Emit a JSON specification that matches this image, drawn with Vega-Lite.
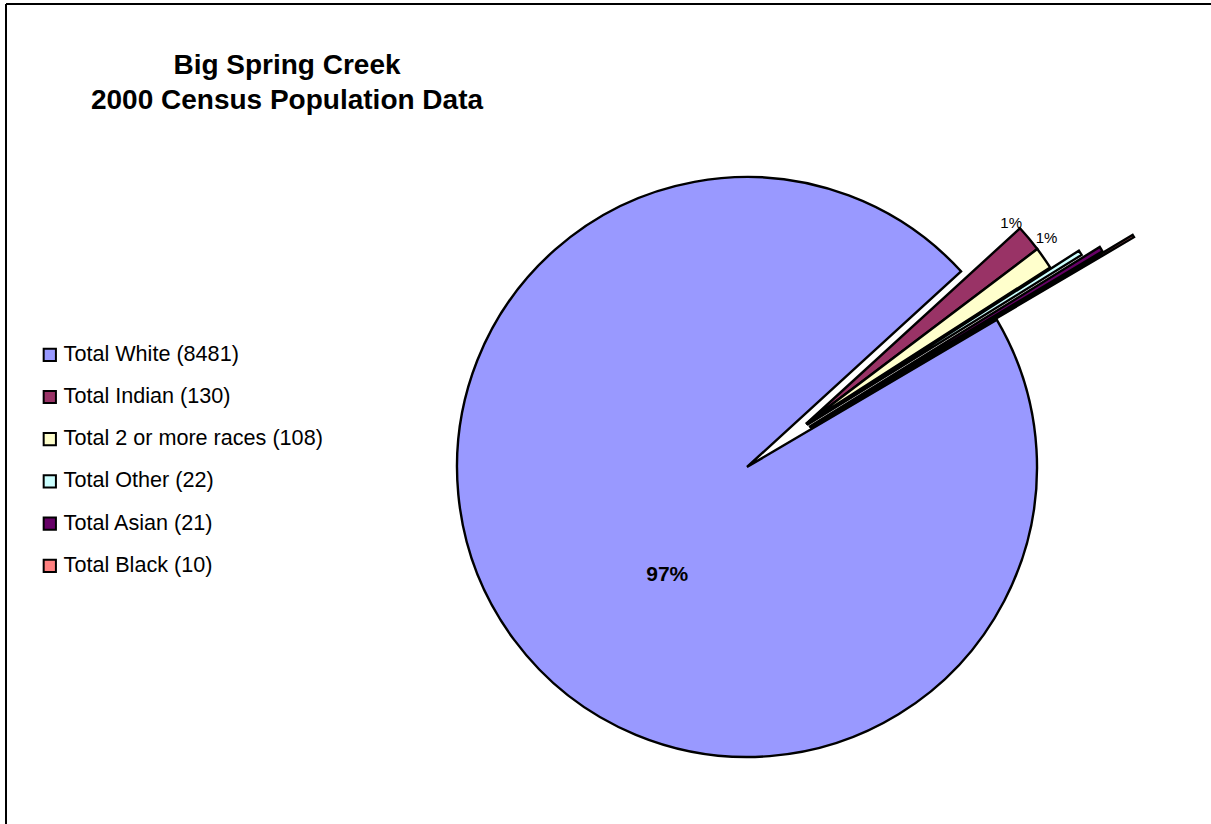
{
  "$schema": "https://vega.github.io/schema/vega-lite/v6.json",
  "width": 1205,
  "height": 820,
  "autosize": {"type": "none"},
  "padding": {"left": 6, "top": 4, "right": 0, "bottom": 0},
  "background": "white",
  "config": {
    "view": {"stroke": null},
    "font": "Liberation Sans"
  },
  "title": {
    "text": ["Big Spring Creek", "2000 Census Population Data"],
    "anchor": "start",
    "frame": "group",
    "align": "center",
    "orient": "top",
    "baseline": "top",
    "offset": 0,
    "dx": 281,
    "dy": 112,
    "fontSize": 28,
    "lineHeight": 35,
    "fontWeight": "bold",
    "font": "Liberation Sans",
    "color": "black"
  },
  "data": {
    "values": [
      {"label": "Total White (8481)", "count": 8481},
      {"label": "Total Indian (130)", "count": 130},
      {"label": "Total 2 or more races (108)", "count": 108},
      {"label": "Total Other (22)", "count": 22},
      {"label": "Total Asian (21)", "count": 21},
      {"label": "Total Black (10)", "count": 10}
    ]
  },
  "transform": [
    {"joinaggregate": [{"op": "sum", "field": "count", "as": "total"}]},
    {"calculate": "format(datum.count / datum.total, '.0%')", "as": "pctText"}
  ],
  "encoding": {
    "x": {"datum": 0.614938, "type": "quantitative", "scale": {"domain": [0, 1], "nice": false, "zero": false}, "axis": null},
    "y": {"datum": 0.564634, "type": "quantitative", "scale": {"domain": [0, 1], "nice": false, "zero": false, "reverse": true}, "axis": null}
  },
  "layer": [
    {
      "data": {"values": [{"frame": 1}]},
      "mark": {"type": "rule", "stroke": "black", "strokeWidth": 2},
      "encoding": {
        "x": {"datum": 0, "type": "quantitative"},
        "x2": {"datum": 1.5},
        "y": {"datum": 0, "type": "quantitative"}
      }
    },
    {
      "data": {"values": [{"frame": 1}]},
      "mark": {"type": "rule", "stroke": "black", "strokeWidth": 2},
      "encoding": {
        "x": {"datum": 0, "type": "quantitative"},
        "y": {"datum": 0, "type": "quantitative"},
        "y2": {"datum": 1.5}
      }
    },
    {
      "mark": {"type": "arc", "radius": 290, "stroke": "black", "strokeWidth": 2.4},
      "encoding": {
        "theta": {"field": "count", "type": "quantitative", "stack": true, "scale": {"range": [1.0385, 7.3217]}},
        "order": {"field": "count", "type": "quantitative", "sort": "descending"},
        "color": {
          "field": "label",
          "type": "nominal",
          "sort": null,
          "scale": {
            "domain": ["Total White (8481)", "Total Indian (130)", "Total 2 or more races (108)", "Total Other (22)", "Total Asian (21)", "Total Black (10)"],
            "range": ["#9999FF", "#993366", "#FFFFCC", "#CCFFFF", "#660066", "#FF8080"]
          },
          "legend": {
            "title": null,
            "orient": "none",
            "legendX": 33,
            "legendY": 340,
            "symbolType": "square",
            "symbolSize": 150,
            "symbolStrokeColor": "black",
            "symbolStrokeWidth": 2,
            "symbolOpacity": 1,
            "labelFontSize": 21.6,
            "labelFont": "Liberation Sans",
            "labelColor": "black",
            "labelOffset": 3,
            "rowPadding": 19.2,
            "padding": 0,
            "labelLimit": 500
          }
        },
        "opacity": {"condition": {"test": "datum.label == 'Total White (8481)'", "value": 1}, "value": 0}
      }
    },
    {
      "mark": {"type": "arc", "radius": 290, "stroke": "black", "strokeWidth": 2.4, "xOffset": 59, "yOffset": -43},
      "encoding": {
        "theta": {"field": "count", "type": "quantitative", "stack": true},
        "order": {"field": "count", "type": "quantitative", "sort": "descending"},
        "color": {"field": "label", "type": "nominal", "sort": null},
        "opacity": {"condition": {"test": "datum.label == 'Total Indian (130)' || datum.label == 'Total 2 or more races (108)'", "value": 1}, "value": 0}
      }
    },
    {
      "mark": {"type": "arc", "radius": 323, "stroke": "black", "strokeWidth": 2.4, "xOffset": 60, "yOffset": -42},
      "encoding": {
        "theta": {"field": "count", "type": "quantitative", "stack": true},
        "order": {"field": "count", "type": "quantitative", "sort": "descending"},
        "color": {"field": "label", "type": "nominal", "sort": null},
        "opacity": {"condition": {"test": "datum.label == 'Total Other (22)'", "value": 1}, "value": 0}
      }
    },
    {
      "mark": {"type": "arc", "radius": 342, "stroke": "black", "strokeWidth": 2.4, "xOffset": 62, "yOffset": -40},
      "encoding": {
        "theta": {"field": "count", "type": "quantitative", "stack": true},
        "order": {"field": "count", "type": "quantitative", "sort": "descending"},
        "color": {"field": "label", "type": "nominal", "sort": null},
        "opacity": {"condition": {"test": "datum.label == 'Total Asian (21)'", "value": 1}, "value": 0}
      }
    },
    {
      "mark": {"type": "arc", "radius": 376, "stroke": "black", "strokeWidth": 2.4, "xOffset": 63, "yOffset": -39},
      "encoding": {
        "theta": {"field": "count", "type": "quantitative", "stack": true},
        "order": {"field": "count", "type": "quantitative", "sort": "descending"},
        "color": {"field": "label", "type": "nominal", "sort": null},
        "opacity": {"condition": {"test": "datum.label == 'Total Black (10)'", "value": 1}, "value": 0}
      }
    },
    {
      "mark": {"type": "text", "radius": 134, "thetaOffset": -0.297, "fontSize": 21, "fontWeight": "bold", "font": "Liberation Sans", "color": "black"},
      "encoding": {
        "theta": {"field": "count", "type": "quantitative", "stack": true},
        "order": {"field": "count", "type": "quantitative", "sort": "descending"},
        "detail": {"field": "label", "type": "nominal"},
        "text": {"field": "pctText", "type": "nominal"},
        "opacity": {"condition": {"test": "datum.label == 'Total White (8481)'", "value": 1}, "value": 0}
      }
    },
    {
      "mark": {"type": "text", "radius": 287, "thetaOffset": -0.08, "xOffset": 59, "yOffset": -43, "fontSize": 15, "font": "Liberation Sans", "color": "black"},
      "encoding": {
        "theta": {"field": "count", "type": "quantitative", "stack": true},
        "order": {"field": "count", "type": "quantitative", "sort": "descending"},
        "detail": {"field": "label", "type": "nominal"},
        "text": {"field": "pctText", "type": "nominal"},
        "opacity": {"condition": {"test": "datum.label == 'Total Indian (130)'", "value": 1}, "value": 0}
      }
    },
    {
      "mark": {"type": "text", "radius": 304, "thetaOffset": -0.049, "xOffset": 59, "yOffset": -43, "fontSize": 15, "font": "Liberation Sans", "color": "black"},
      "encoding": {
        "theta": {"field": "count", "type": "quantitative", "stack": true},
        "order": {"field": "count", "type": "quantitative", "sort": "descending"},
        "detail": {"field": "label", "type": "nominal"},
        "text": {"field": "pctText", "type": "nominal"},
        "opacity": {"condition": {"test": "datum.label == 'Total 2 or more races (108)'", "value": 1}, "value": 0}
      }
    }
  ]
}
